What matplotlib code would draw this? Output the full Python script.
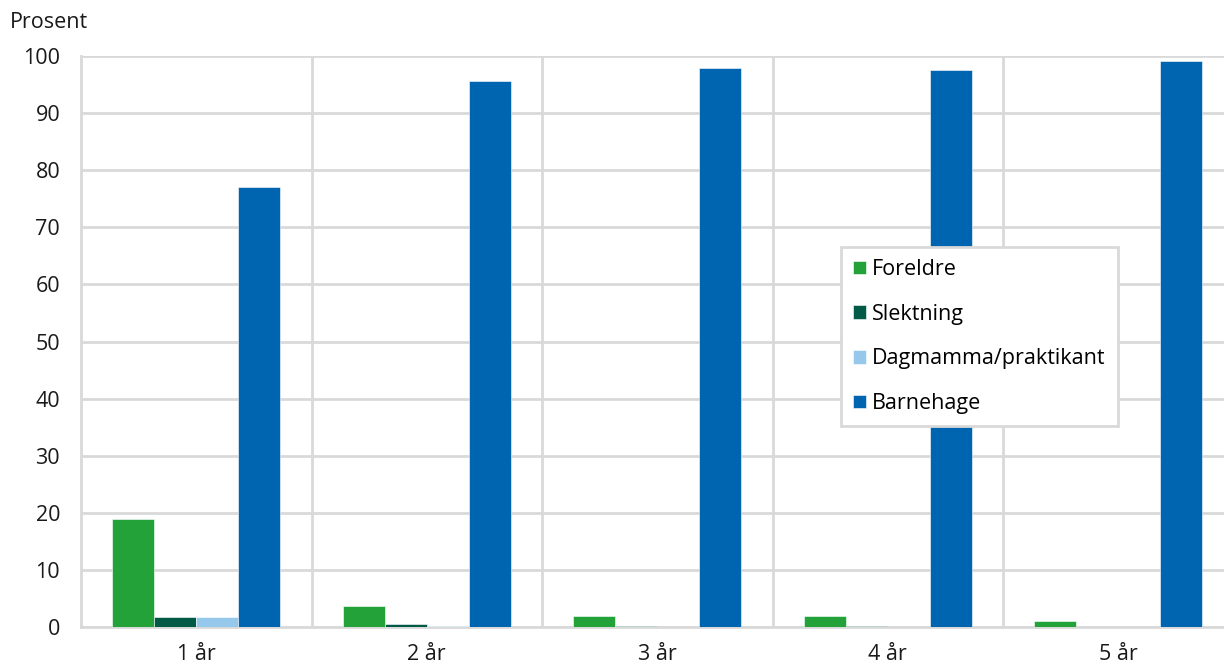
import numpy as np
import matplotlib.pyplot as plt

plt.rcParams['font.family'] = ['Open Sans', 'DejaVu Sans']

categories = ['1 år', '2 år', '3 år', '4 år', '5 år']
foreldre = [19.0, 3.6, 1.9, 2.0, 1.0]
slektning = [1.7, 0.6, 0.2, 0.2, 0.0]
dagmamma = [1.7, 0.1, 0.0, 0.0, 0.0]
barnehage = [77.0, 95.6, 97.9, 97.5, 99.1]

series = [
    ('Foreldre', foreldre, '#23a23a'),
    ('Slektning', slektning, '#005a46'),
    ('Dagmamma/praktikant', dagmamma, '#95c8eb'),
    ('Barnehage', barnehage, '#0065b0'),
]

W, H = 1224, 666
fs = 15.5
fig = plt.figure(figsize=(W / 100, H / 100), dpi=100)
ax = fig.add_axes([81 / W, 1 - 627 / H, (1224 - 81) / W, (627 - 56) / H])

x = np.arange(len(categories))
width = 0.182
for i, (name, vals, color) in enumerate(series):
    ax.bar(x + (i - 1.5) * width, vals, width, color=color, label=name,
           edgecolor='#ffffff', linewidth=0.4, zorder=3)

grid_col = '#d9d9d9'
ax.set_ylim(0, 100)
ax.set_xlim(-0.5, len(categories) - 0.5 - 9.5 / 230.5)
ax.set_yticks(np.arange(0, 101, 10))
ax.set_xticks(x)
ax.set_xticklabels(categories)
ax.set_xticks(np.arange(0.5, len(categories) - 0.5), minor=True)
ax.tick_params(which='both', length=0, labelsize=fs, colors='#1a1a1a')
ax.tick_params(axis='y', pad=15)
ax.tick_params(axis='x', pad=12)
ax.grid(axis='y', which='major', color=grid_col, linewidth=2, zorder=0)
ax.grid(axis='x', which='minor', color=grid_col, linewidth=2, zorder=0)
for s in ['top', 'right']:
    ax.spines[s].set_visible(False)
for s in ['left', 'bottom']:
    ax.spines[s].set_color(grid_col)
    ax.spines[s].set_linewidth(2)

fig.text(10 / W, 1 - 22 / H, 'Prosent', fontsize=fs, va='center', ha='left', color='#1a1a1a')

leg = ax.legend(loc='upper left', bbox_to_anchor=(0.665, 0.665), fontsize=fs,
                frameon=True, fancybox=False, edgecolor=grid_col, framealpha=1,
                labelspacing=1.1, handlelength=0.6, handleheight=0.6,
                handletextpad=0.3, borderpad=0.55, borderaxespad=0)
leg.get_frame().set_linewidth(2)

fig.savefig('out.png', dpi=100)
